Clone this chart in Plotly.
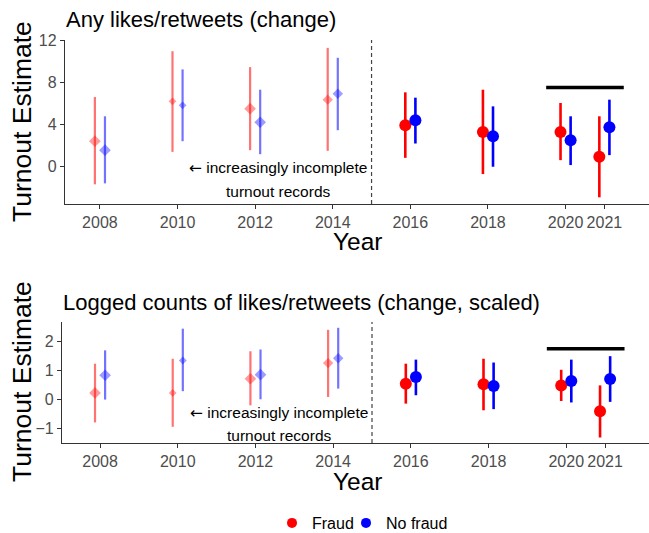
import plotly.graph_objects as go

# ---------------- data ----------------
years = [2008, 2010, 2012, 2014, 2016, 2018, 2020, 2021]
tick_labels = ["2008", "2010", "2012", "2014", "2016", "2018", "2020", "2021"]

# Panel 1: Any likes/retweets (change)
p1_fraud_est = [2.38, 6.19, 5.49, 6.35, 3.90, 3.27, 3.27, 0.89]
p1_fraud_lo = [-1.74, 1.36, 1.52, 1.46, 0.79, -0.76, 0.57, -2.98]
p1_fraud_hi = [6.60, 10.98, 9.46, 11.30, 7.05, 7.30, 6.03, 4.76]
p1_nofraud_est = [1.52, 5.81, 4.19, 6.92, 4.38, 2.86, 2.48, 3.71]
p1_nofraud_lo = [-1.65, 2.38, 1.14, 3.43, 2.16, -0.06, 0.10, 1.05]
p1_nofraud_hi = [4.76, 9.24, 7.30, 10.35, 6.54, 5.71, 4.76, 6.35]
p1_bar_level = 7.5

# Panel 2: Logged counts of likes/retweets (change, scaled)
p2_fraud_est = [0.22, 0.22, 0.71, 1.25, 0.54, 0.52, 0.48, -0.41]
p2_fraud_lo = [-0.80, -0.95, -0.21, 0.08, -0.15, -0.38, -0.06, -1.32]
p2_fraud_hi = [1.23, 1.40, 1.66, 2.40, 1.23, 1.40, 1.02, 0.48]
p2_nofraud_est = [0.83, 1.34, 0.85, 1.42, 0.77, 0.46, 0.63, 0.70]
p2_nofraud_lo = [-0.01, 0.28, 0.00, 0.37, 0.14, -0.34, -0.11, -0.09]
p2_nofraud_hi = [1.69, 2.44, 1.72, 2.47, 1.37, 1.27, 1.37, 1.49]
p2_bar_level = 1.75

cutoff_year = 2015
bar_start, bar_end = 2019.5, 2021.5

# ---------------- styling ----------------
W, H = 649, 533
FONT = "Liberation Sans"
DODGE = 0.13
RED = "rgb(255,0,0)"
RED_A = "rgba(255,0,0,0.55)"
BLUE = "rgb(0,0,255)"
BLUE_A = "rgba(0,0,255,0.55)"
pre_sizes = [9, 6, 9, 8]


def px_x(px):
    return px / W


def px_y(py):
    return 1 - py / H


fig = go.Figure()


def add_panel(xa, ya, f_est, f_lo, f_hi, n_est, n_lo, n_hi):
    pre = [i for i, y in enumerate(years) if y < cutoff_year]
    post = [i for i, y in enumerate(years) if y > cutoff_year]
    groups = [
        (f_est, f_lo, f_hi, -DODGE, RED, RED_A),
        (n_est, n_lo, n_hi, DODGE, BLUE, BLUE_A),
    ]
    for est, lo, hi, off, col, col_a in groups:
        for idx, sym, c, w in ((pre, "diamond", col_a, 2.2), (post, "circle", col, 2.6)):
            xs = [years[i] + off for i in idx]
            ys = [est[i] for i in idx]
            up = [hi[i] - est[i] for i in idx]
            dn = [est[i] - lo[i] for i in idx]
            if sym == "diamond":
                size = [pre_sizes[k] for k in range(len(idx))]
            else:
                size = 12
            fig.add_trace(go.Scatter(
                x=xs, y=ys, mode="markers", xaxis=xa, yaxis=ya,
                marker=dict(symbol=sym, size=size, color=c, line=dict(width=0)),
                error_y=dict(type="data", symmetric=False, array=up, arrayminus=dn,
                             color=c, thickness=w, width=0),
                showlegend=False, hoverinfo="skip",
            ))


add_panel("x", "y", p1_fraud_est, p1_fraud_lo, p1_fraud_hi,
          p1_nofraud_est, p1_nofraud_lo, p1_nofraud_hi)
add_panel("x2", "y2", p2_fraud_est, p2_fraud_lo, p2_fraud_hi,
          p2_nofraud_est, p2_nofraud_lo, p2_nofraud_hi)

# legend-only traces (one legend each so spacing can match)
for name, col, lg in (("Fraud", RED, "legend"), ("No fraud", BLUE, "legend2")):
    fig.add_trace(go.Scatter(
        x=[None], y=[None], mode="markers", name=name, legend=lg,
        marker=dict(symbol="circle", size=10, color=col),
        xaxis="x", yaxis="y", showlegend=True,
    ))

axis_common = dict(
    showgrid=False, zeroline=False, showline=True, linecolor="#333333", linewidth=1.3,
    ticks="outside", ticklen=4, tickwidth=1.1, tickcolor="#333333",
    tickfont=dict(family=FONT, size=16, color="#4d4d4d"),
)

legend_common = dict(orientation="h", yanchor="middle", y=px_y(523), xanchor="left",
                     font=dict(family=FONT, size=16, color="black"), itemwidth=30,
                     bgcolor="rgba(0,0,0,0)", borderwidth=0)

fig.update_layout(
    width=W, height=H,
    margin=dict(l=0, r=0, t=0, b=0, pad=0, autoexpand=False),
    paper_bgcolor="white", plot_bgcolor="white",
    font=dict(family=FONT),
    xaxis=dict(domain=[px_x(65), 1], range=[2007.1, 2022.15], anchor="y",
               tickvals=years, ticktext=tick_labels, **axis_common),
    yaxis=dict(domain=[px_y(204), px_y(40)], range=[-3.62, 12.05], anchor="x",
               tickvals=[0, 4, 8, 12], **axis_common),
    xaxis2=dict(domain=[px_x(62), 1], range=[2007.02, 2022.13], anchor="y2",
                tickvals=years, ticktext=tick_labels, **axis_common),
    yaxis2=dict(domain=[px_y(443), px_y(322)], range=[-1.51, 2.67], anchor="x2",
                tickvals=[-1, 0, 1, 2], **axis_common),
    legend=dict(x=px_x(272), **legend_common),
    legend2=dict(x=px_x(346), **legend_common),
    showlegend=True,
)

# dashed cutoff lines and black bars
for xr, yr, lvl in (("x", "y", p1_bar_level), ("x2", "y2", p2_bar_level)):
    fig.add_shape(type="line", xref=xr, yref=yr + " domain", x0=cutoff_year, x1=cutoff_year,
                  y0=0, y1=1, line=dict(color="#444444", width=1.2, dash="4px,3px"))
    fig.add_shape(type="line", xref=xr, yref=yr, x0=bar_start, x1=bar_end, y0=lvl, y1=lvl,
                  line=dict(color="black", width=3.5))

ann = []
# titles
ann.append(dict(text="Any likes/retweets (change)", xref="paper", yref="paper",
                x=px_x(64), y=px_y(20), xanchor="left", yanchor="middle", showarrow=False,
                font=dict(family=FONT, size=22, color="black")))
ann.append(dict(text="Logged counts of likes/retweets (change, scaled)", xref="paper", yref="paper",
                x=px_x(61), y=px_y(302), xanchor="left", yanchor="middle", showarrow=False,
                font=dict(family=FONT, size=22, color="black")))
# axis titles
for yc in (122, 382):
    ann.append(dict(text="Turnout Estimate", xref="paper", yref="paper", x=px_x(22), y=px_y(yc),
                    xanchor="center", yanchor="middle", textangle=-90, showarrow=False,
                    font=dict(family=FONT, size=26.5, color="black")))
for yc in (242, 481):
    ann.append(dict(text="Year", xref="paper", yref="paper", x=px_x(358), y=px_y(yc),
                    xanchor="center", yanchor="middle", showarrow=False,
                    font=dict(family=FONT, size=24.5, color="black")))
# incomplete-records notes
arrow = '<span style="font-family:DejaVu Sans">\u2190</span>'
for xr, yr, y1, y2 in (("x", "y", -0.19, -2.38), ("x2", "y2", -0.47, -1.24)):
    ann.append(dict(text=arrow + " increasingly incomplete", xref=xr, yref=yr, x=2012.6, y=y1,
                    xanchor="center", yanchor="middle", showarrow=False,
                    font=dict(family=FONT, size=15.5, color="black")))
    ann.append(dict(text="turnout records", xref=xr, yref=yr, x=2012.6, y=y2,
                    xanchor="center", yanchor="middle", showarrow=False,
                    font=dict(family=FONT, size=15.5, color="black")))
fig.update_layout(annotations=ann)

fig.write_html("out.html", config={"displayModeBar": False},
               post_script="document.body.style.margin='0px';")
